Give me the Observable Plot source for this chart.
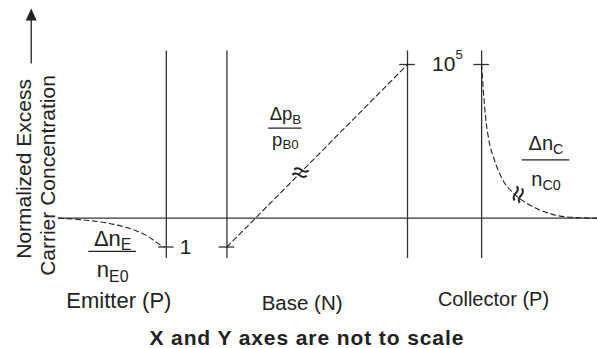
<!DOCTYPE html>
<html>
<head>
<meta charset="utf-8">
<script src="https://cdn.jsdelivr.net/npm/d3@7"></script>
<script src="https://cdn.jsdelivr.net/npm/@observablehq/plot@0.6"></script>
<style>
  html, body { margin: 0; padding: 0; background: #fff; }
  #chart svg { display: block; }
</style>
</head>
<body>
<div id="chart"></div>
<script>
// Region boundaries along the device (schematic position units)
const junctionX = [20, 31.25, 64.75, 78.5];
// Normalized levels (schematic): reverse-bias edge and forward-bias edge
const levelLow = -1;
const levelHigh = 5.33;
const tickX = [20, 31.25, 64.75, 78.5];
const tickY = [levelLow, levelLow, levelHigh, levelHigh];
const lowLabel = "1";
const highLabel = "10^{5}";
const lowLabelX = 22.5;
const highLabelX = 69.3;
const highLabelY = 5.12;

// Emitter: excess minority electrons, falling to -1 at the junction edge
const emitterX = [0, 5.6, 8.7, 11.8, 14.3, 16.1, 18.0, 19.2, 19.6];
const emitterY = [0, -0.08, -0.16, -0.28, -0.43, -0.58, -0.81, -0.97, -1];
// Base: straight-line excess hole profile
const baseX = [31.25, 64.75];
const baseY = [levelLow, levelHigh];
// Collector: excess electrons decaying from the forward-biased edge
const collectorX = [78.5, 78.8, 79.2, 79.8, 80.8, 82.3, 84.5, 87.6, 91.3, 95.0, 100];
const collectorY = [levelHigh, 4.49, 3.56, 2.75, 2.06, 1.37, 0.85, 0.44, 0.15, 0.03, 0];

// Axis breaks drawn on the base and collector profiles
const breakX = [44.9, 85.3];
const breakY = [1.58, 0.82];
const breakAngle = [20, -65];

// Fraction labels for each region
const numerators = ["Δn_{E}", "Δp_{B}", "Δn_{C}"];
const denominators = ["n_{E0}", "p_{B0}", "n_{C0}"];
const fracX = [10.05, 42.1, 90.45];
const fracHalf = [4.42, 3.1, 4.42];
const numY = [-0.95, 3.39, 2.35];
const barY = [-1.15, 3.12, 2.02];
const denY = [-2.05, 2.52, 1.13];

const regionNames = ["Emitter (P)", "Base (N)", "Collector (P)"];
const regionX = [11.2, 45.2, 80.7];
const regionY = [-3.12, -3.18, -3.03];

const yTitle = ["Normalized Excess", "Carrier Concentration"];
const yTitleX = [-5.19, -0.56];
const yTitleY = [1.71, 1.48];
const arrowX = -5.06;
const arrowFrom = 5.35;
const arrowTo = 6.86;

const caption = "X and Y axes are not to scale";

const ink = "#222";
const fracSizes = [22, 18.5, 20];
const regionSizes = [22, 20.5, 20];

// filled arrowhead, tip pointing up from the anchor
const arrowHead = {
  draw(context) {
    context.moveTo(0, -12);
    context.lineTo(5.5, 0);
    context.lineTo(-5.5, 0);
    context.closePath();
  }
};

// two short wavy strokes marking a break in a curve
const breakMark = {
  draw(context) {
    for (const o of [-2.8, 2.8]) {
      context.moveTo(-7, o + 2);
      context.bezierCurveTo(-2.5, o - 5, 2.5, o + 5, 7, o - 2);
    }
  }
};

const ticks = tickX.map((x, i) => ({x, y: tickY[i]}));
const fracs = numerators.map((n, i) => ({
  num: n, den: denominators[i], x: fracX[i], x1: fracX[i] - fracHalf[i], x2: fracX[i] + fracHalf[i],
  ny: numY[i], by: barY[i], dy: denY[i]
}));
const breaks = breakX.map((x, i) => ({x, y: breakY[i], a: breakAngle[i]}));

const marks = [
  // equilibrium line
  Plot.ruleY([0], {x1: 0, x2: 100, stroke: "#333", strokeWidth: 1.3}),
  // region boundaries
  Plot.ruleX(junctionX, {y1: -1.4, y2: 5.8, stroke: "#333", strokeWidth: 1.3}),
  // level ticks at the depletion edges
  Plot.ruleY(ticks, {y: "y", x1: d => d.x - 1.45, x2: d => d.x + 1.45, stroke: "#333", strokeWidth: 1.3}),
  Plot.text([lowLabel], {x: lowLabelX, y: levelLow, text: d => d, textAnchor: "start",
    lineAnchor: "middle", fontSize: 21, fill: ink}),
  Plot.text([highLabel], {x: highLabelX, y: highLabelY, text: d => d, textAnchor: "start",
    lineAnchor: "bottom", fontSize: 21, fill: ink}),
  // minority carrier profiles
  Plot.line(emitterX, {x: d => d, y: (d, i) => emitterY[i], curve: "monotone-x",
    stroke: ink, strokeWidth: 1.1, strokeDasharray: "5,3.5"}),
  Plot.line(baseX, {x: d => d, y: (d, i) => baseY[i],
    stroke: ink, strokeWidth: 1.1, strokeDasharray: "5,3.5"}),
  Plot.line(collectorX, {x: d => d, y: (d, i) => collectorY[i], curve: "monotone-x",
    stroke: ink, strokeWidth: 1.1, strokeDasharray: "5,3.5"}),
  // break marks
  Plot.dot(breaks, {x: "x", y: "y", rotate: "a", symbol: breakMark, r: 5,
    fill: "none", stroke: ink, strokeWidth: 2.1}),
  // fraction bars
  Plot.ruleY(fracs, {y: "by", x1: "x1", x2: "x2", stroke: ink, strokeWidth: 1.2}),
  // y title and arrow
  Plot.text(yTitle, {x: (d, i) => yTitleX[i], y: (d, i) => yTitleY[i], text: d => d,
    rotate: -90, lineAnchor: "bottom", fontSize: 21, fill: ink}),
  Plot.ruleX([arrowX], {y1: arrowFrom, y2: arrowTo, stroke: ink, strokeWidth: 1.3}),
  Plot.dot([arrowX], {x: d => d, y: arrowTo, symbol: arrowHead, fill: ink, stroke: "none", r: 5}),
  // caption
  Plot.text([caption], {x: 46.07, y: -4.39, text: d => d, lineAnchor: "bottom",
    fontSize: 21, fontWeight: "bold", fill: ink})
];

regionNames.forEach((name, i) => {
  marks.push(Plot.text([name], {x: regionX[i], y: regionY[i], text: d => d,
    lineAnchor: "bottom", fontSize: regionSizes[i], fill: ink}));
});

fracs.forEach((f, i) => {
  marks.push(Plot.text([f], {x: "x", y: "ny", text: "num", lineAnchor: "bottom", fontSize: fracSizes[i], fill: ink}));
  marks.push(Plot.text([f], {x: "x", y: "dy", text: "den", lineAnchor: "bottom", fontSize: fracSizes[i], fill: ink}));
});

const chart = Plot.plot({
  width: 597,
  height: 348,
  margin: 0,
  x: {domain: [0, 100], range: [58, 597], axis: null},
  y: {domain: [levelLow, levelHigh], range: [246.5, 64], axis: null},
  style: {fontFamily: "'Liberation Sans', Arial, sans-serif", background: "#fff", color: ink, overflow: "visible"},
  marks
});
document.getElementById("chart").appendChild(chart);

chart.querySelectorAll("text").forEach(t => {
  if (t.textContent === caption) t.setAttribute("letter-spacing", "0.9");
});

// turn _{..} and ^{..} into sub/superscript tspans
const SVGNS = "http://www.w3.org/2000/svg";
chart.querySelectorAll("text").forEach(t => {
  const s = t.textContent;
  if (!/[_^]\{/.test(s)) return;
  const fs = parseFloat(getComputedStyle(t).fontSize);
  t.textContent = "";
  const re = /([_^])\{([^}]*)\}|([^_^]+)/g;
  let m, shift = 0;
  while ((m = re.exec(s))) {
    const ts = document.createElementNS(SVGNS, "tspan");
    if (m[1]) {
      const d = m[1] === "_" ? 0.2 * fs : -0.55 * fs;
      ts.setAttribute("dy", d - shift);
      shift = d;
      ts.setAttribute("font-size", (m[1] === "_" ? 0.72 : 0.62) * fs);
      ts.textContent = m[2];
    } else {
      if (shift) ts.setAttribute("dy", -shift);
      shift = 0;
      ts.textContent = m[3];
    }
    t.appendChild(ts);
  }
});
</script>
</body>
</html>
